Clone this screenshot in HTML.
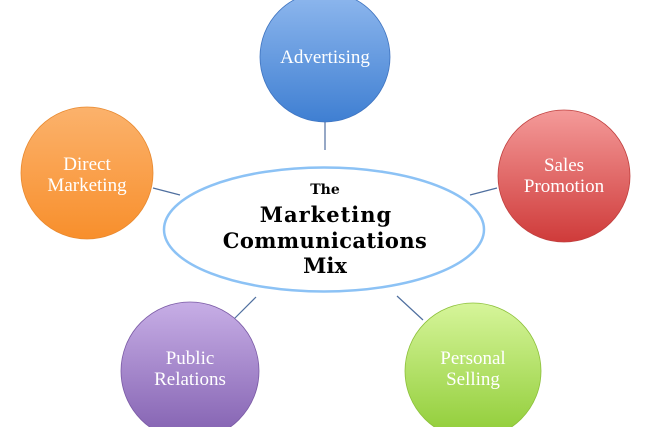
<!DOCTYPE html>
<html><head><style>
html,body{margin:0;padding:0;background:#fff;}
svg{display:block;}
</style></head><body>
<svg width="650" height="427" viewBox="0 0 650 427" xmlns="http://www.w3.org/2000/svg">
<defs>
<linearGradient id="gb" x1="0" y1="0" x2="0" y2="1"><stop offset="0" stop-color="#8fb8ee"/><stop offset="1" stop-color="#3f7fd2"/></linearGradient>
<linearGradient id="go" x1="0" y1="0" x2="0" y2="1"><stop offset="0" stop-color="#fbb26c"/><stop offset="1" stop-color="#f88f2c"/></linearGradient>
<linearGradient id="gr" x1="0" y1="0" x2="0" y2="1"><stop offset="0" stop-color="#f49a99"/><stop offset="1" stop-color="#cf3b3a"/></linearGradient>
<linearGradient id="gp" x1="0" y1="0" x2="0" y2="1"><stop offset="0" stop-color="#c7aee6"/><stop offset="1" stop-color="#8260b0"/></linearGradient>
<linearGradient id="gg" x1="0" y1="0" x2="0" y2="1"><stop offset="0" stop-color="#d6f59a"/><stop offset="1" stop-color="#8fcc36"/></linearGradient>
</defs>
<g stroke="#4f6f9f" stroke-width="1.2">
<line x1="325" y1="122" x2="325" y2="150"/>
<line x1="153" y1="188" x2="180" y2="195"/>
<line x1="470" y1="195" x2="497" y2="188"/>
<line x1="233" y1="320" x2="256" y2="297"/>
<line x1="397" y1="296" x2="423" y2="320"/>
</g>
<circle cx="325" cy="57" r="65" fill="url(#gb)" stroke="#3f74c0" stroke-width="0.8"/>
<circle cx="87" cy="173" r="66" fill="url(#go)" stroke="#e8892f" stroke-width="0.8"/>
<circle cx="564" cy="176" r="66" fill="url(#gr)" stroke="#c0403f" stroke-width="0.8"/>
<circle cx="190" cy="371" r="69" fill="url(#gp)" stroke="#7a5aa5" stroke-width="0.8"/>
<circle cx="473" cy="371" r="68" fill="url(#gg)" stroke="#8cc03a" stroke-width="0.8"/>
<ellipse cx="324" cy="229.5" rx="160" ry="62" fill="#fff" stroke="#8cc2f5" stroke-width="2.5"/>
<g font-family="Liberation Serif, serif" font-size="19" fill="#fff" text-anchor="middle">
<text x="325" y="63">Advertising</text>
<text x="87" y="170">Direct</text>
<text x="87" y="191">Marketing</text>
<text x="564" y="171">Sales</text>
<text x="564" y="192">Promotion</text>
<text x="190" y="364">Public</text>
<text x="190" y="385">Relations</text>
<text x="473" y="364">Personal</text>
<text x="473" y="385">Selling</text>
</g>
<g font-family="DejaVu Serif, serif" font-weight="bold" fill="#000" text-anchor="middle">
<text x="325" y="194" font-size="14">The</text>
<text x="326" y="222" font-size="21" letter-spacing="1">Marketing</text>
<text x="325" y="248" font-size="21" letter-spacing="0.4">Communications</text>
<text x="325" y="273" font-size="21">Mix</text>
</g>
</svg>
</body></html>
